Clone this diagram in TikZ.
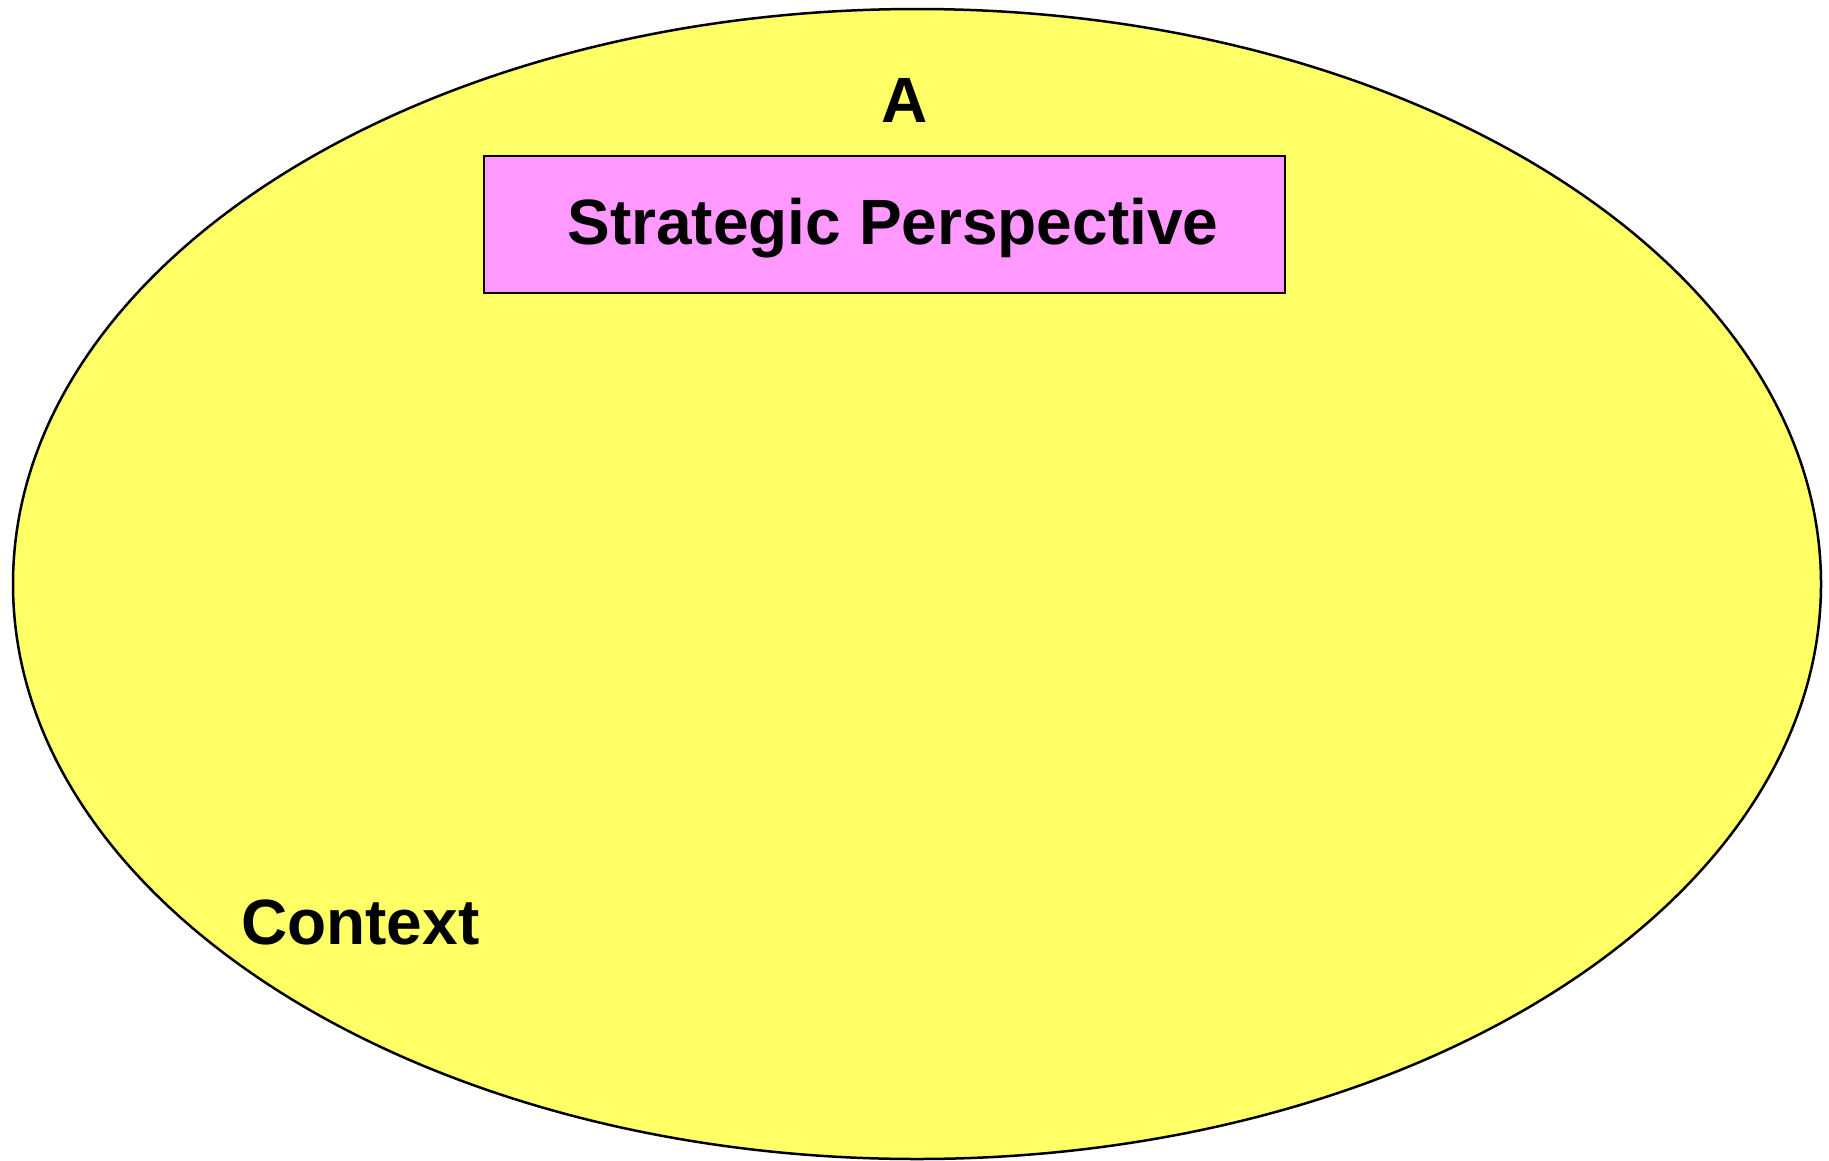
\documentclass[tikz,border=0pt]{standalone}
\usepackage{fontspec}
\setmainfont{Liberation Sans}
\definecolor{ctxyellow}{HTML}{FFFF66}
\definecolor{stratpink}{HTML}{FF99FF}
\begin{document}
\begin{tikzpicture}[x=1pt,y=-1pt,
  lbl/.style={font=\fontsize{64}{70}\selectfont\bfseries, inner sep=0pt, anchor=base},
  boxstyle/.style={draw=black, line width=2.5pt, fill=stratpink, inner sep=0pt, minimum width=801pt, minimum height=137pt}]
\useasboundingbox (0,0) rectangle (1829,1160);
\draw[line width=2.5pt, fill=ctxyellow] (917,584) ellipse [x radius=904pt, y radius=575pt];
\node[boxstyle] (sp) at (884.5,224.5) {};
\node[lbl] (sptext) at (893,244) {Strategic Perspective};
\node[lbl] (a) at (905,122) {A};
\node[lbl, anchor=base west] (ctx) at (241,944) {Context};
\end{tikzpicture}
\end{document}
